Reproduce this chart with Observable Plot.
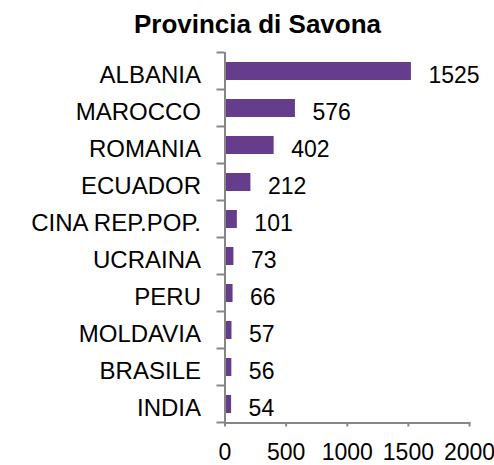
<!DOCTYPE html>
<html>
<head>
<meta charset="utf-8">
<script src="https://cdn.jsdelivr.net/npm/d3@7"></script>
<script src="https://cdn.jsdelivr.net/npm/@observablehq/plot@0.6"></script>
<style>
  body { margin: 0; background: #fff; }
  #wrap { position: relative; width: 494px; height: 465px; font-family: "Liberation Sans", Arial, sans-serif; }
  #title { position: absolute; left: 0; top: 11px; width: 494px; box-sizing: border-box; padding-left: 21px;
           text-align: center; font-weight: bold; font-size: 26px; line-height: 26px; color: #000; }
  #chart { position: absolute; left: 0; top: 0; }
</style>
</head>
<body>
<div id="wrap">
  <div id="chart"></div>
  <div id="title"></div>
</div>
<script>
const title = "Provincia di Savona";
const categories = ["ALBANIA", "MAROCCO", "ROMANIA", "ECUADOR", "CINA REP.POP.", "UCRAINA", "PERU", "MOLDAVIA", "BRASILE", "INDIA"];
const values = [1525, 576, 402, 212, 101, 73, 66, 57, 56, 54];
const xTicks = [0, 500, 1000, 1500, 2000];

const data = categories.map((name, i) => ({name, value: values[i]}));

const W = 494, H = 465;
const mTop = 52, mBottom = 42.5, mLeft = 224.5, mRight = 25;
const stepFallback = (H - mTop - mBottom) / categories.length;
const axisGray = "#868686";
const bar = "#663d8c";
const fs = 23;

document.getElementById("title").textContent = title;

// y-axis tick marks at the boundaries between categories, from the plot's y band scale
function yBoundaryTicks(index, scales, values, dims) {
  const y = scales.y;
  const bw = typeof y.bandwidth === "function" ? y.bandwidth() : stepFallback * 0.48;
  const st = typeof y.step === "function" ? y.step() : stepFallback;
  const ys = categories.map(c => y(c) + bw / 2 - st / 2);
  ys.push(y(categories[categories.length - 1]) + bw / 2 + st / 2);
  const g = d3.create("svg:g").attr("stroke", axisGray).attr("stroke-width", 2);
  for (const yy of ys) {
    g.append("line")
      .attr("x1", dims.marginLeft - 8).attr("x2", dims.marginLeft)
      .attr("y1", yy).attr("y2", yy);
  }
  return g.node();
}

const plot = Plot.plot({
  width: W,
  height: H,
  marginTop: mTop,
  marginBottom: mBottom,
  marginLeft: mLeft,
  marginRight: mRight,
  style: {fontFamily: "'Liberation Sans', Arial, sans-serif", color: "#000", background: "#fff"},
  x: {domain: [0, 2000], label: null},
  y: {domain: categories, paddingInner: 0.52, paddingOuter: 0.26, label: null},
  marks: [
    Plot.barX(data, {x: "value", y: "name", fill: bar}),
    Plot.text(data, {x: "value", y: "name", text: d => String(d.value), textAnchor: "start", dx: 17, dy: 4, fontSize: fs, fill: "#000"}),
    Plot.ruleX([0], {stroke: axisGray, strokeWidth: 2}),
    Plot.frame({anchor: "bottom", stroke: axisGray, strokeWidth: 2}),
    yBoundaryTicks,
    Plot.axisY({ticks: categories, tickSize: 0, tickPadding: 24, label: null, dy: 4, fontSize: 24, fill: "#000"}),
    Plot.axisX({ticks: xTicks, tickSize: 4, tickFormat: () => "", label: null, stroke: axisGray, strokeWidth: 2}),
    Plot.axisX({ticks: xTicks, tickSize: 0, tickPadding: 21, label: null, tickFormat: d => String(d), fontSize: fs, fill: "#000"})
  ]
});
document.getElementById("chart").appendChild(plot);
</script>
</body>
</html>
